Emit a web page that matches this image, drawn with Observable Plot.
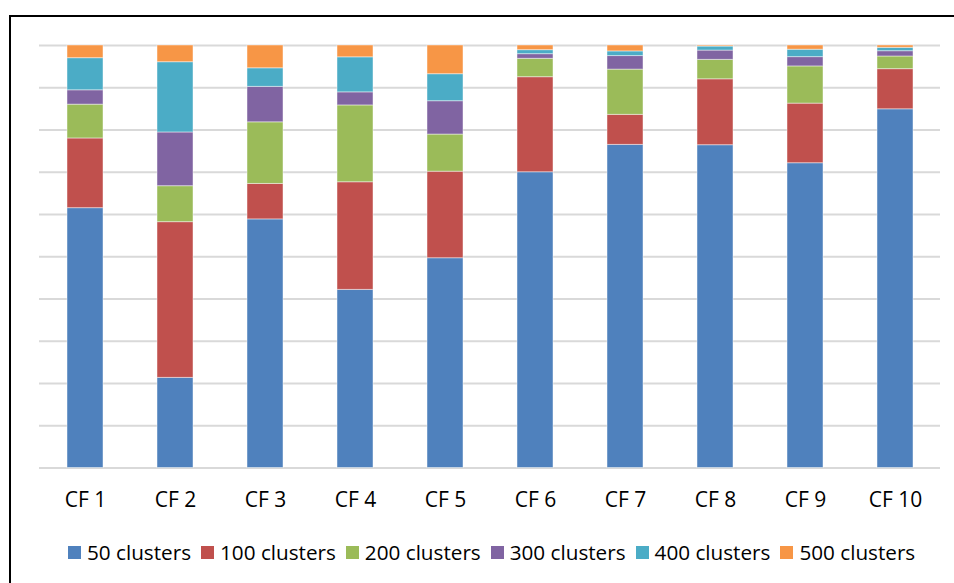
<!DOCTYPE html>
<html>
<head>
<meta charset="utf-8">
<script src="https://cdn.jsdelivr.net/npm/d3@7"></script>
<script src="https://cdn.jsdelivr.net/npm/@observablehq/plot@0.6"></script>
<style>
  html, body { margin: 0; padding: 0; background: #fff; overflow: hidden; }
  #wrap { position: relative; width: 954px; height: 583px; overflow: hidden; font-family: "Open Sans", sans-serif; }
  #frame { position: absolute; left: 9px; top: 15px; width: 960px; height: 600px; border-left: 2px solid #000; border-top: 2px solid #000; box-sizing: border-box; }
  #chart { position: absolute; left: 0; top: 0; }
  #legend { position: absolute; left: 68px; top: 542px; display: flex; align-items: center; font-size: 20.7px; line-height: 20px; color: #000; white-space: nowrap; }
  .item { display: flex; align-items: center; margin-right: 10px; }
  .sw { width: 13px; height: 13px; margin-right: 6px; margin-top: 1px; }
</style>
</head>
<body>
<div id="wrap">
  <div id="frame"></div>
  <div id="chart"></div>
  <div id="legend"></div>
</div>
<script>
const categories = ["CF 1","CF 2","CF 3","CF 4","CF 5","CF 6","CF 7","CF 8","CF 9","CF 10"];
const series = ["50 clusters","100 clusters","200 clusters","300 clusters","400 clusters","500 clusters"];
const colors = ["#4F81BD","#C0504D","#9BBB59","#8064A2","#4BACC6","#F79646"];
const v50  = [61.5, 21.3, 58.9, 42.2, 49.7, 70.0, 76.4, 76.4, 72.1, 84.9];
const v100 = [16.5, 36.8,  8.4, 25.5, 20.5, 22.5,  7.1, 15.6, 14.1,  9.5];
const v200 = [ 8.0,  8.5, 14.6, 18.2,  8.8, 4.35, 10.7,  4.6,  8.8,  3.0];
const v300 = [ 3.4, 12.7,  8.4,  3.1,  7.9,  1.1,  3.2,  2.2,  2.2, 1.25];
const v400 = [ 7.6, 16.6,  4.4,  8.3,  6.4, 0.95,  1.1, 0.95, 1.75,  0.8];
const v500 = [ 3.0, 3.95,  5.4,  2.8,  6.8,  1.1,  1.4, 0.25,  1.0, 0.55];
const gridTicks = [0, 0.1, 0.2, 0.3, 0.4, 0.5, 0.6, 0.7, 0.8, 0.9, 1];

const seriesValues = [v50, v100, v200, v300, v400, v500];
const data = [];
series.forEach((s, si) => {
  categories.forEach((c, ci) => {
    data.push({category: c, series: s, value: seriesValues[si][ci]});
  });
});

const chart = Plot.plot({
  width: 954,
  height: 520,
  marginTop: 45,
  marginBottom: 52.5,
  marginLeft: 39,
  marginRight: 14,
  style: { fontFamily: "Open Sans, sans-serif", fontSize: "21px", color: "#000", background: "transparent" },
  x: { domain: categories, paddingInner: 0.6, paddingOuter: 0.3, label: null },
  y: { domain: [0, 1], axis: null },
  color: { domain: series, range: colors },
  marks: [
    Plot.ruleY(gridTicks, { stroke: "#D9D9D9", strokeWidth: 2 }),
    Plot.barY(data, Plot.stackY({
      x: "category",
      y: "value",
      z: "series",
      fill: "series",
      offset: "normalize",
      order: series,
      stroke: "#ffffff",
      strokeOpacity: 0.45,
      strokeWidth: 1
    })),
    Plot.axisX({ tickSize: 0, tickPadding: 24, fontSize: 21, fill: "#000" })
  ]
});
document.getElementById("chart").appendChild(chart);

const legend = document.getElementById("legend");
series.forEach((s, i) => {
  const item = document.createElement("div");
  item.className = "item";
  const sw = document.createElement("div");
  sw.className = "sw";
  sw.style.background = colors[i];
  const t = document.createElement("span");
  t.textContent = s;
  item.appendChild(sw);
  item.appendChild(t);
  legend.appendChild(item);
});
</script>
</body>
</html>
